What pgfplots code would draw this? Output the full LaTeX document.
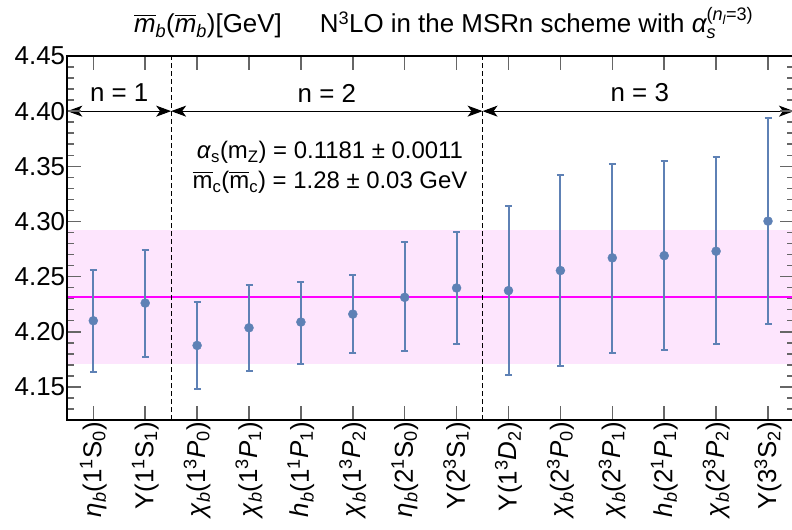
\documentclass[border=0pt]{standalone}
\usepackage{fontspec}
\setmainfont{Liberation Sans}
\usepackage{amsmath}
\usepackage{pgfplots}
\pgfplotsset{compat=1.18}
\usetikzlibrary{arrows.meta}
\definecolor{ptblue}{RGB}{94,129,181}
\definecolor{mag}{RGB}{255,0,255}
\definecolor{bandc}{RGB}{253,229,253}
\newcommand\fs{\fontsize{24}{29}\selectfont}
\newcommand\ft{\fontsize{26}{30}\selectfont}
\newcommand\fx{\fontsize{26}{30}\selectfont}
\newcommand\fy{\fontsize{26}{30}\selectfont}
\newcommand\lo[1]{\textsubscript{#1}}
\newcommand\hi[1]{\textsuperscript{#1}}
\pgfplotstableread{
x y ep em
1 4.2100 0.0464 0.0467
2 4.2260 0.0485 0.0490
3 4.1876 0.0394 0.0396
4 4.2036 0.0389 0.0391
5 4.2088 0.0367 0.0376
6 4.2160 0.0358 0.0354
7 4.2312 0.0500 0.0488
8 4.2397 0.0509 0.0507
9 4.2373 0.0770 0.0764
10 4.2555 0.0863 0.0861
11 4.2670 0.0854 0.0867
12 4.2690 0.0858 0.0854
13 4.2730 0.0855 0.0840
14 4.3003 0.0931 0.0933
}\datatable
\begin{document}
\begin{tikzpicture}
\begin{axis}[
  at={(0,0)}, anchor=south west,
  scale only axis, width=726.6bp, height=364bp,
  xmin=0.5, xmax=14.5, ymin=4.12, ymax=4.45,
  xtick={1,2,3,4,5,6,7,8,9,10,11,12,13,14},
  xticklabels={
    {\textit{η}\lo{\textit{b}}(1\hi{1}S\lo{0})},
    {Υ(1\hi{1}S\lo{1})},
    {\textit{χ}\lo{\textit{b}}(1\hi{3}\textit{P}\lo{0})},
    {\textit{χ}\lo{\textit{b}}(1\hi{3}\textit{P}\lo{1})},
    {\textit{h}\lo{\textit{b}}(1\hi{1}\textit{P}\lo{1})},
    {\textit{χ}\lo{\textit{b}}(1\hi{3}\textit{P}\lo{2})},
    {\textit{η}\lo{\textit{b}}(2\hi{1}S\lo{0})},
    {Υ(2\hi{3}S\lo{1})},
    {Υ(1\hi{3}\textit{D}\lo{2})},
    {\textit{χ}\lo{\textit{b}}(2\hi{3}\textit{P}\lo{0})},
    {\textit{χ}\lo{\textit{b}}(2\hi{3}\textit{P}\lo{1})},
    {\textit{h}\lo{\textit{b}}(2\hi{1}\textit{P}\lo{1})},
    {\textit{χ}\lo{\textit{b}}(2\hi{3}\textit{P}\lo{2})},
    {Υ(3\hi{3}S\lo{2})}},
  ytick={4.15,4.2,4.25,4.3,4.35,4.4,4.45},
  minor ytick={4.12,4.13,4.14,4.16,4.17,4.18,4.19,4.21,4.22,4.23,4.24,4.26,4.27,4.28,4.29,4.31,4.32,4.33,4.34,4.36,4.37,4.38,4.39,4.41,4.42,4.43,4.44},
  tick align=inside,
  major tick length=14bp, minor tick length=7bp,
  every tick/.style={black!60, line width=1.5bp},
  axis line style={line width=2bp},
  xticklabel style={font=\fx, rotate=90, anchor=east, inner sep=2bp},
  yticklabel style={font=\fy, inner sep=2bp, /pgf/number format/fixed, /pgf/number format/fixed zerofill, /pgf/number format/precision=2},
  /pgf/number format/assume math mode=true,
  axis on top,
  clip=false,
]
\addplot[draw=none, fill=bandc] coordinates {(0.5,4.171) (14.5,4.171) (14.5,4.292) (0.5,4.292)} -- cycle;
\addplot[mag, line width=2.5bp] coordinates {(0.5,4.2315) (14.5,4.2315)};
\addplot[ptblue, only marks, mark=*, mark size=4.5bp,
  error bars/.cd, y dir=both, y explicit,
  error bar style={line width=2bp},
  error mark options={rotate=90, mark size=3.5bp, line width=2bp}]
  table[x=x, y=y, y error plus=ep, y error minus=em] {\datatable};
\draw[black, line width=1bp, dash pattern=on 5bp off 3bp] (axis cs:2.5,4.12) -- (axis cs:2.5,4.45);
\draw[black, line width=1bp, dash pattern=on 5bp off 3bp] (axis cs:8.5,4.12) -- (axis cs:8.5,4.45);
\draw[line width=1bp, {Stealth[length=15bp,width=11bp,inset=4bp]}-{Stealth[length=15bp,width=11bp,inset=4bp]}] (axis cs:0.5,4.40) -- (axis cs:2.5,4.40);
\draw[line width=1bp, {Stealth[length=15bp,width=11bp,inset=4bp]}-{Stealth[length=15bp,width=11bp,inset=4bp]}] (axis cs:2.5,4.40) -- (axis cs:8.5,4.40);
\draw[line width=1bp, {Stealth[length=15bp,width=11bp,inset=4bp]}-{Stealth[length=15bp,width=11bp,inset=4bp]}] (axis cs:8.5,4.40) -- (axis cs:14.5,4.40);
\node[font=\fx] at (axis cs:1.5,4.4164) {n = 1};
\node[font=\fx] at (axis cs:5.5,4.4164) {n = 2};
\node[font=\fx] at (axis cs:11.53,4.4164) {n = 3};
\node[font=\fs, align=center] at (axis cs:5.56,4.349) {\textit{α}\lo{s}(m\lo{Z}) = 0.1181 ± 0.0011\\[1bp] $\overline{\textrm{m}}$\lo{c}($\overline{\textrm{m}}$\lo{c}) = 1.28 ± 0.03 GeV};
\end{axis}
\node[anchor=base, font=\ft] at ([xshift=13bp,yshift=23bp]current axis.north) {$\overline{\textit{m}}$\lo{\textit{b}}($\overline{\textit{m}}$\lo{\textit{b}})[GeV]\hspace{38bp}N\hi{3}LO in the MSRn scheme with $\textit{α}_{\textit{s}}^{\textrm{(}\textit{n}_{\textit{l}}\textrm{=3)}}$};
\pgfresetboundingbox
\path[use as bounding box] (-67.35bp,-110bp) rectangle (724.65bp,420bp);
\end{tikzpicture}
\end{document}
